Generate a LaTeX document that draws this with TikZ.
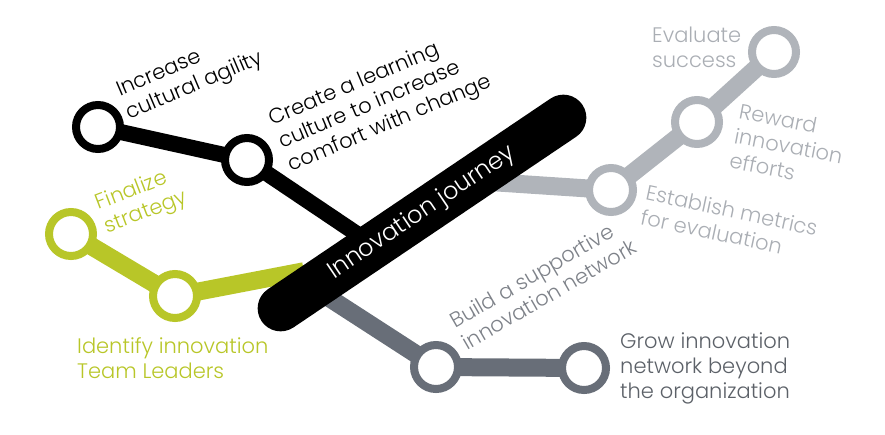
\documentclass[tikz,border=0pt]{standalone}
\usepackage{fontspec}
\setmainfont{Poppins}[UprightFont={* Light}]
\usepackage{xcolor}
\usetikzlibrary{positioning,shapes.misc}

\definecolor{routegreen}{RGB}{184,198,40}
\definecolor{routedark}{RGB}{104,110,120}
\definecolor{routelight}{RGB}{176,180,186}
\definecolor{textdark}{RGB}{92,97,104}
\definecolor{textmid}{RGB}{126,130,137}
\definecolor{textlight}{RGB}{170,174,180}

\begin{document}
\begin{tikzpicture}[x=1pt,y=-1pt,node distance=10pt]
		\tikzstyle{station}=[circle, draw, fill=white, line width=8pt, minimum size=44pt, inner sep=0pt]
		\tikzstyle{every edge}=[draw, line width=18pt, shorten <=-4pt, shorten >=-4pt]
		\tikzstyle{journey}=[rounded rectangle, fill=black, text=white, minimum width=387pt, minimum height=46pt, inner sep=0pt, rotate=34, font=\fontsize{24}{28}\selectfont]
		\tikzstyle{lbl}=[inner sep=0pt, anchor=north west, align=left, font=\fontsize{21}{25}\selectfont]
		
		\useasboundingbox (0,0) rectangle (885,434);
		
		\node[station, draw=black]      (1) at (98,127) {};
		\node[station, draw=black]      (2) at (247,160) {};
		\node[station, draw=routegreen] (3) at (71,234) {};
		\node[station, draw=routegreen] (4) at (175,296) {};
		\node[station, draw=routedark]  (5) at (436,367) {};
		\node[station, draw=routedark]  (6) at (584,368) {};
		\node[station, draw=routelight] (7) at (611,190) {};
		\node[station, draw=routelight] (8) at (697,122) {};
		\node[station, draw=routelight] (9) at (774,52) {};
		
		% ends hidden under the bar
		\coordinate (k) at (360,236);
		\coordinate (g) at (300,272);
		\coordinate (d) at (320,292);
		\coordinate (l) at (490,182);
		
		\path (1)edge[draw=black, line width=16pt] (2);
		\path (2)edge[draw=black, line width=16pt] (k);
		\path (3)edge[draw=routegreen] (4);
		\path (4)edge[draw=routegreen] (g);
		\path (d)edge[draw=routedark] (5);
		\path (5)edge[draw=routedark] (6);
		\path (l)edge[draw=routelight] (7);
		\path (7)edge[draw=routelight] (8);
		\path (8)edge[draw=routelight] (9);
		
		\node[journey] (0) at (422,213) {Innovation journey};
		
		\node[lbl, rotate=23]                   (l1) at (114,83)  {Increase\\cultural agility};
		\node[lbl, rotate=23]                   (l2) at (266,111) {Create a learning\\culture to increase\\comfort with change};
		\node[lbl, rotate=21, text=routegreen]  (l3) at (93,195)  {Finalize\\strategy};
		\node[lbl, text=routegreen]             (l4) at (77,337)  {Identify innovation\\Team Leaders};
		\node[lbl, rotate=30, text=textmid]     (l5) at (447,315) {Build a supportive\\innovation network};
		\node[lbl, text=textdark, right=10pt of 6] (l6)           {Grow innovation\\network beyond\\the organization};
		\node[lbl, text=textlight]              (l7) at (652,27)  {Evaluate\\success};
		\node[lbl, rotate=-11, text=textlight]  (l8) at (741,103) {Reward\\innovation\\efforts};
		\node[lbl, rotate=-12, text=textlight]  (l9) at (648,184) {Establish metrics\\for evaluation};
\end{tikzpicture}
\end{document}
